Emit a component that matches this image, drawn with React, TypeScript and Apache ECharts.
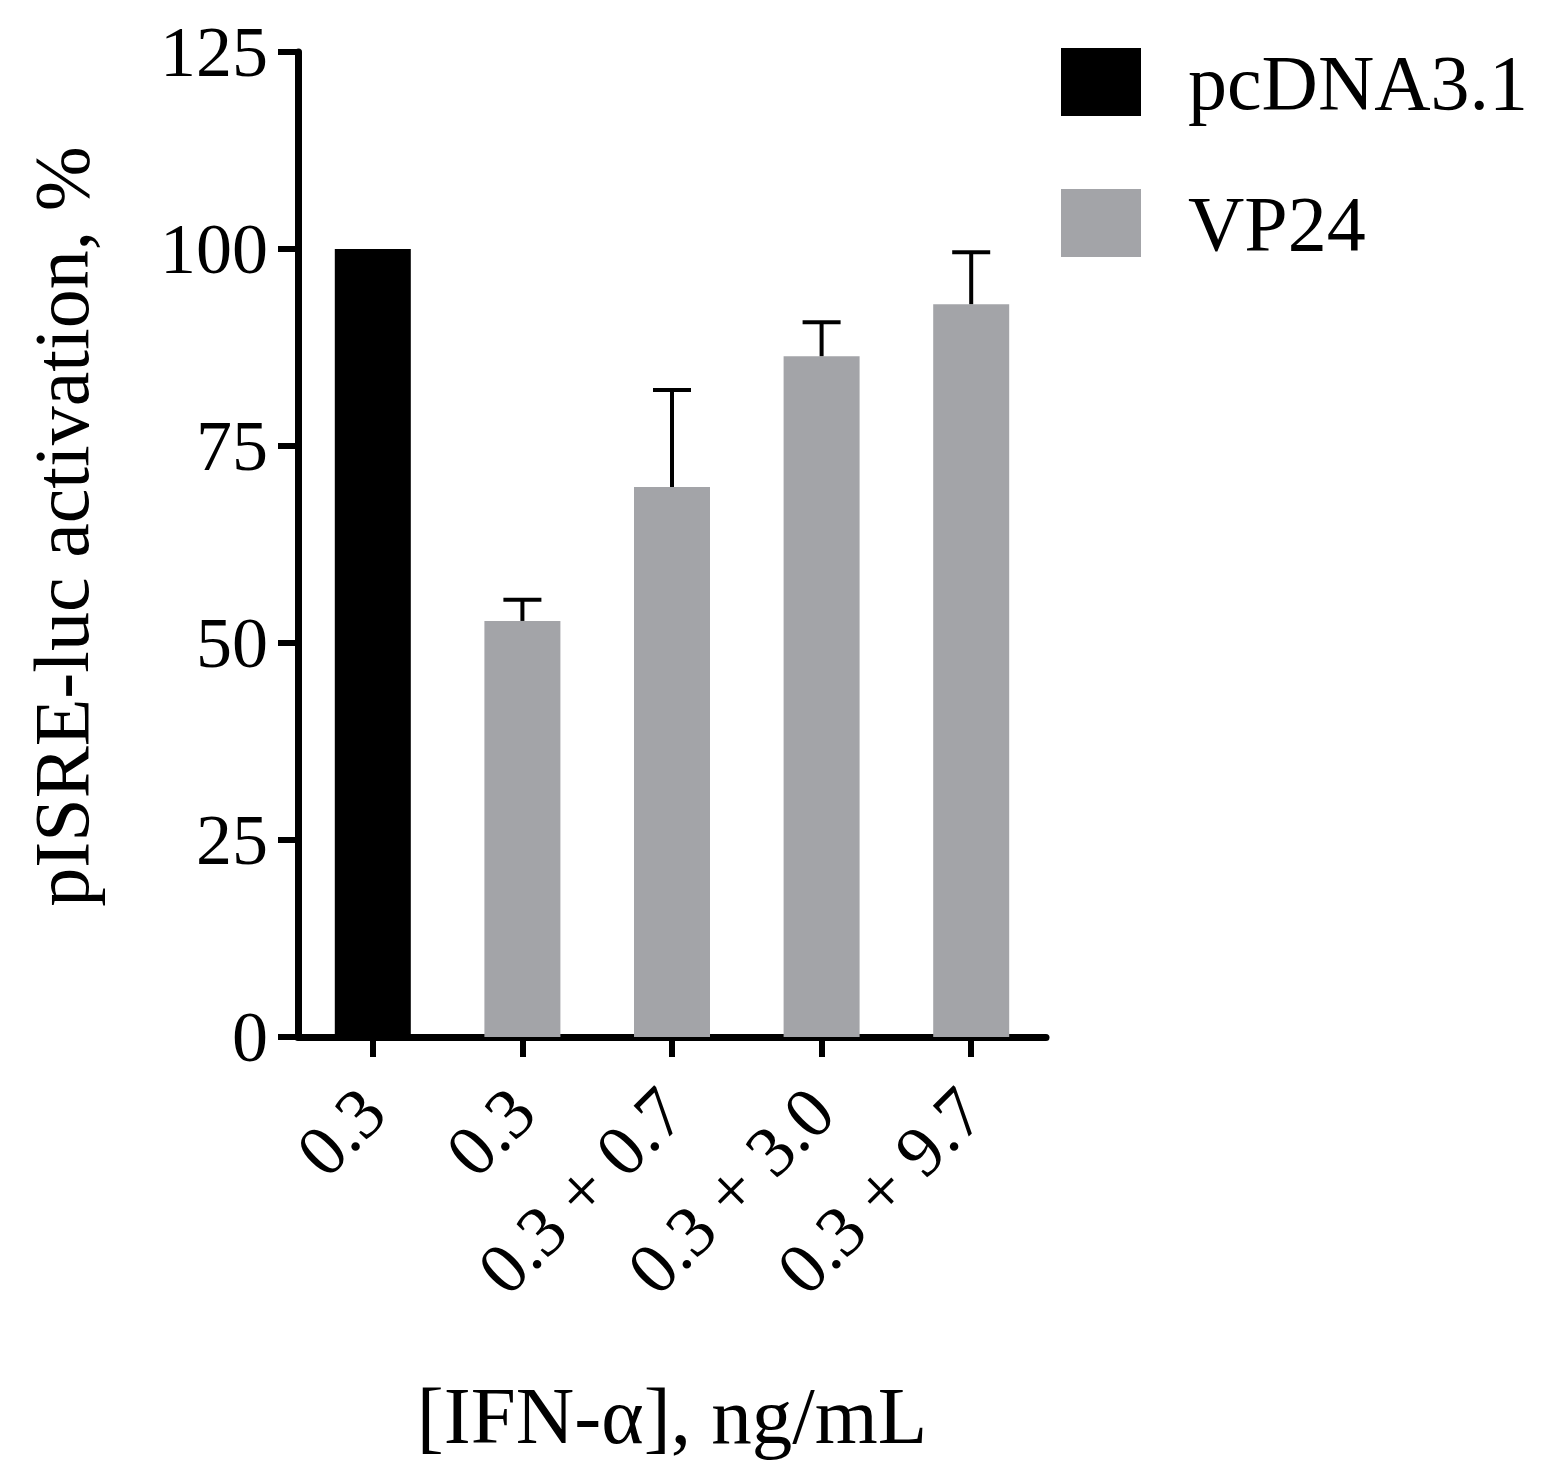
import React, { useEffect, useRef } from "react";
import * as echarts from "echarts";

const categories = ["0.3", "0.3", "0.3 + 0.7", "0.3 + 3.0", "0.3 + 9.7"];
const pcdnaValues: (number | string)[] = [100, "-", "-", "-", "-"];
const vp24Values: (number | string)[] = ["-", 52.8, 69.8, 86.4, 93.0];
const vp24Upper: (number | null)[] = [null, 55.5, 82.1, 90.7, 99.6];
const yTicks = [0, 25, 50, 75, 100, 125];

const FONT = "'Liberation Serif', 'DejaVu Serif', serif";

export default function App() {
  const ref = useRef<HTMLDivElement>(null);

  useEffect(() => {
    if (!ref.current) return;
    const chart = echarts.init(ref.current, undefined, { renderer: "svg" });

    const errData = vp24Upper
      .map((u, i) => (u == null ? null : [i, vp24Values[i] as number, u]))
      .filter((d) => d != null);

    chart.setOption({
      animation: false,
      backgroundColor: "#ffffff",
      textStyle: { fontFamily: FONT, color: "#000" },
      grid: {
        left: 298,
        top: 52,
        width: 748,
        height: 985,
        containLabel: false,
        outerBoundsMode: "none",
      },
      legend: {
        orient: "vertical",
        left: 1061,
        top: 43,
        padding: 0,
        itemWidth: 80,
        itemHeight: 68,
        itemGap: 63,
        icon: "rect",
        selectedMode: false,
        data: ["pcDNA3.1", "VP24"],
        textStyle: {
          fontFamily: FONT,
          fontSize: 78,
          lineHeight: 60,
          color: "#000",
          padding: [8, 0, 0, 42],
        },
      },
      xAxis: {
        type: "category",
        data: categories,
        name: "[IFN-α], ng/mL",
        nameLocation: "middle",
        nameGap: 338,
        nameTextStyle: { fontFamily: FONT, fontSize: 81, color: "#000" },
        axisLine: { show: true, lineStyle: { color: "#000", width: 7 } },
        axisTick: {
          show: true,
          alignWithLabel: true,
          length: 20,
          inside: false,
          lineStyle: { color: "#000", width: 6 },
        },
        axisLabel: {
          interval: 0,
          rotate: 45,
          margin: 63,
          fontFamily: FONT,
          fontSize: 72,
          color: "#000",
        },
        splitLine: { show: false },
      },
      yAxis: {
        type: "value",
        min: 0,
        max: 125,
        interval: 25,
        name: "pISRE-luc activation, %",
        nameLocation: "middle",
        nameGap: 198,
        nameRotate: 90,
        nameTextStyle: {
          fontFamily: FONT,
          fontSize: 78,
          color: "#000",
          padding: [0, 0, 0, 36],
        },
        axisLine: { show: true, lineStyle: { color: "#000", width: 7 } },
        axisTick: {
          show: true,
          length: 20,
          inside: false,
          lineStyle: { color: "#000", width: 6 },
        },
        axisLabel: {
          margin: 30,
          fontFamily: FONT,
          fontSize: 72,
          color: "#000",
          formatter: (v: number) => (yTicks.includes(v) ? String(v) : ""),
        },
        splitLine: { show: false },
      },
      series: [
        {
          name: "pcDNA3.1",
          type: "bar",
          data: pcdnaValues,
          barWidth: 76,
          barGap: "-100%",
          itemStyle: { color: "#000000" },
          z: 2,
        },
        {
          name: "VP24",
          type: "bar",
          data: vp24Values,
          barWidth: 76,
          barGap: "-100%",
          itemStyle: { color: "#a3a4a8" },
          z: 2,
        },
        {
          name: "VP24 SD",
          type: "custom",
          data: errData,
          z: 5,
          renderItem: (params: any, api: any) => {
            const x = api.value(0);
            const mean = api.value(1);
            const up = api.value(2);
            const p0 = api.coord([x, mean]);
            const p1 = api.coord([x, up]);
            const half = 19;
            const style = { stroke: "#000", lineWidth: 4 };
            return {
              type: "group",
              children: [
                {
                  type: "line",
                  shape: { x1: p0[0], y1: p0[1], x2: p1[0], y2: p1[1] },
                  style,
                },
                {
                  type: "line",
                  shape: { x1: p1[0] - half, y1: p1[1], x2: p1[0] + half, y2: p1[1] },
                  style,
                },
              ],
            };
          },
        },
      ],
    });

    return () => chart.dispose();
  }, []);

  return (
    <div
      ref={ref}
      style={{ position: "absolute", left: 0, top: 0, width: 1544, height: 1477 }}
    />
  );
}
